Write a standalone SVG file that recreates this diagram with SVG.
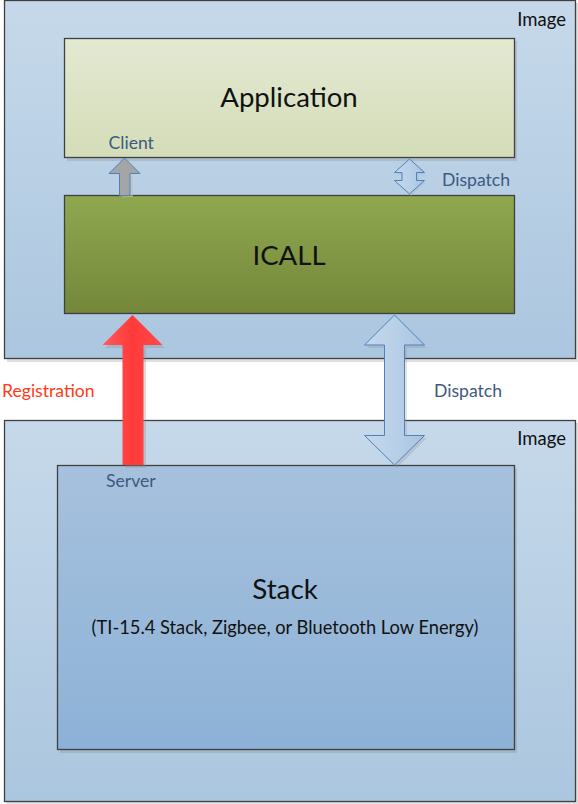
<svg xmlns="http://www.w3.org/2000/svg" width="578" height="804" viewBox="0 0 578 804">
<defs>
<linearGradient id="gImg" x1="0" y1="0" x2="0" y2="1"><stop offset="0" stop-color="#c6d9ea"/><stop offset="1" stop-color="#abc6df"/></linearGradient>
<linearGradient id="gApp" x1="0" y1="0" x2="0" y2="1"><stop offset="0" stop-color="#e3e9d2"/><stop offset="1" stop-color="#d4ddb8"/></linearGradient>
<linearGradient id="gIcall" x1="0" y1="0" x2="0" y2="1"><stop offset="0" stop-color="#8fa84f"/><stop offset="1" stop-color="#74873a"/></linearGradient>
<linearGradient id="gStack" x1="0" y1="0" x2="0" y2="1"><stop offset="0" stop-color="#a6c1dd"/><stop offset="1" stop-color="#8db2d7"/></linearGradient>
<linearGradient id="gRed" x1="0" y1="0" x2="1" y2="0"><stop offset="0" stop-color="#ff5a5a"/><stop offset="0.5" stop-color="#ff3a3a"/><stop offset="1" stop-color="#ff4a4a"/></linearGradient>
<linearGradient id="gBlueArr" x1="0" y1="0" x2="1" y2="0"><stop offset="0" stop-color="#c6d9ec"/><stop offset="0.5" stop-color="#b9d0e8"/><stop offset="1" stop-color="#a9c4e0"/></linearGradient>
</defs>
<style>
.box{stroke:#404040;stroke-width:1.3}
.shadow{fill:#7f7f7f;opacity:0.25}
.t{font-family:Lato,"Open Sans","Liberation Sans",sans-serif}
.lbl{fill:#3d5a80;font-size:17.6px}
.blk{fill:#111}
.blueArrow{fill:url(#gBlueArr);stroke:#4f81bd;stroke-width:1}
</style>
<rect width="578" height="804" fill="#ffffff"/>
<g id="image-top">
<rect class="shadow" x="7" y="3" width="571" height="359"/>
<rect class="box" x="4.5" y="0.5" width="571" height="358" fill="url(#gImg)"/>
<text class="t blk" x="566" y="26" font-size="18.5" text-anchor="end">Image</text>
</g>
<g id="image-bottom">
<rect class="shadow" x="7" y="423" width="571" height="381"/>
<rect class="box" x="4.5" y="420.5" width="571" height="381" fill="url(#gImg)"/>
<text class="t blk" x="566" y="445" font-size="18.5" text-anchor="end">Image</text>
</g>
<g id="application">
<rect class="shadow" x="67" y="41" width="450" height="120"/>
<rect class="box" x="64.5" y="38.5" width="450" height="119" fill="url(#gApp)"/>
<text class="t blk" x="289" y="107" font-size="27.6" text-anchor="middle">Application</text>
</g>
<g id="icall">
<rect class="box" x="64.5" y="195.5" width="450" height="118" fill="url(#gIcall)"/>
<text class="t blk" x="289" y="265" font-size="27.6" text-anchor="middle">ICALL</text>
</g>
<g id="stack">
<rect class="shadow" x="60" y="468" width="457" height="285"/>
<rect class="box" x="57.5" y="465.5" width="457" height="284" fill="url(#gStack)"/>
<text class="t blk" x="285" y="599" font-size="27.8" text-anchor="middle">Stack</text>
<text class="t blk" x="285" y="634" font-size="18.3" text-anchor="middle">(TI-15.4 Stack, Zigbee, or Bluetooth Low Energy)</text>
</g>
<g id="connectors">
<g id="client-arrow">
<rect x="122" y="176" width="11" height="21" fill="#bfbfbf" opacity="0.6"/>
<polygon points="124.5,158 140,173.5 130,173.5 130,195.5 119.5,195.5 119.5,173.5 109,173.5" fill="#a5a5a5" stroke="#4f81bd" stroke-width="1"/>
</g>
<g id="dispatch-small">
<polygon points="411,161 426,175 419,175 419,182 426,182 411,196 396,182 403,182 403,175 396,175" fill="#9fb6cc" opacity="0.35"/>
<polygon class="blueArrow" points="409.5,159 424.5,172.5 416.5,172.5 416.5,180.5 424.5,180.5 409.5,194 394.5,180.5 402,180.5 402,172.5 394.5,172.5"/>
</g>
<g id="registration-arrow">
<polygon points="135,318 165,348 146,348 146,468 125,468 125,348 105,348" fill="#8a8a8a" opacity="0.3"/>
<polygon points="132.5,315 162.5,345 143.5,345 143.5,465 122.5,465 122.5,345 102.5,345" fill="url(#gRed)"/>
</g>
<g id="dispatch-big">
<polygon points="397,318 427,348 407,348 407,438 427,438 397,468 367,438 387,438 387,348 367,348" fill="#8a8a8a" opacity="0.25"/>
<polygon class="blueArrow" points="394.5,315 424.5,345 404.5,345 404.5,435.5 424.5,435.5 394.5,465 364.5,435.5 384.5,435.5 384.5,345 364.5,345"/>
</g>
</g>
<g id="labels">
<text class="t lbl" x="108.5" y="149">Client</text>
<text class="t lbl" x="442" y="186">Dispatch</text>
<text class="t" x="2" y="397" font-size="17.6" fill="#ff3a17">Registration</text>
<text class="t lbl" x="434" y="397">Dispatch</text>
<text class="t lbl" x="106" y="486.5">Server</text>
</g>
</svg>
